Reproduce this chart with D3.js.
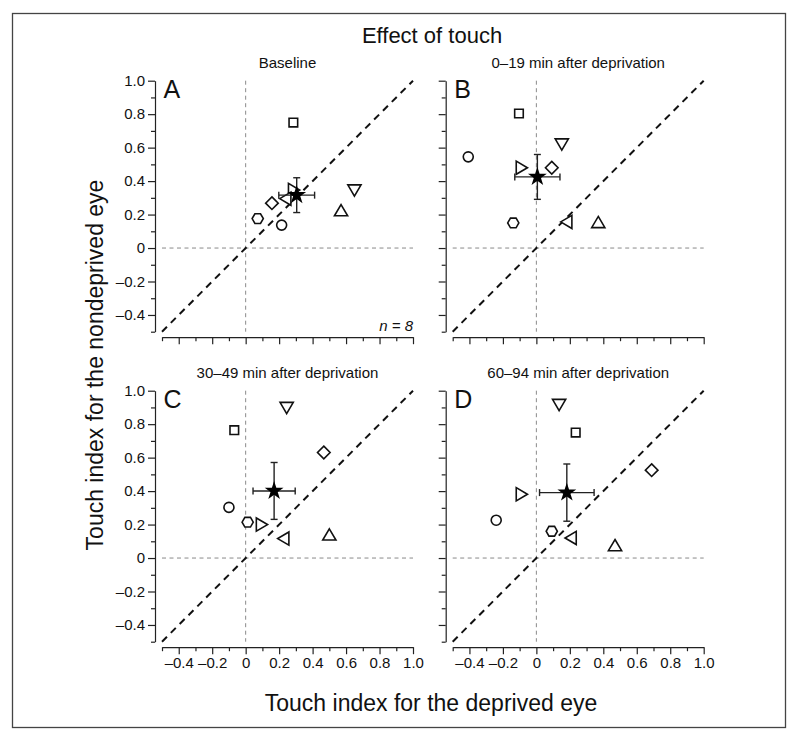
<!DOCTYPE html>
<html><head><meta charset="utf-8">
<script src="https://cdn.jsdelivr.net/npm/d3@7"></script>
<style>body{margin:0;background:#fff}</style>
</head><body>
<svg id="chart" width="800" height="741"></svg>
<script>
// ---------- data ----------
const panelLetters = ["A", "B", "C", "D"];
const panelTitles = ["Baseline", "0\u201319 min after deprivation", "30\u201349 min after deprivation", "60\u201394 min after deprivation"];
const markerShapes = ["circle", "square", "hexagon", "diamond", "triangleUp", "triangleDown", "triangleRight", "triangleLeft"];
// deprived-eye (x) and nondeprived-eye (y) touch index per subject, order = markerShapes
const xA = [0.215, 0.285, 0.072, 0.157, 0.57, 0.65, 0.288, 0.238];
const yA = [0.137, 0.75, 0.176, 0.268, 0.225, 0.345, 0.347, 0.295];
const xB = [-0.407, -0.104, -0.138, 0.092, 0.37, 0.152, -0.088, 0.18];
const yB = [0.545, 0.804, 0.15, 0.48, 0.154, 0.62, 0.48, 0.156];
const xC = [-0.1, -0.068, 0.012, 0.467, 0.5, 0.245, 0.096, 0.226];
const yC = [0.303, 0.764, 0.214, 0.631, 0.14, 0.898, 0.2, 0.116];
const xD = [-0.24, 0.235, 0.092, 0.689, 0.47, 0.136, -0.088, 0.206];
const yD = [0.226, 0.75, 0.16, 0.525, 0.076, 0.916, 0.381, 0.12];
const meanX = [0.305, 0.006, 0.17, 0.182];
const meanY = [0.316, 0.425, 0.401, 0.391];
const errX = [0.107, 0.135, 0.126, 0.163];
const errY = [0.104, 0.134, 0.17, 0.171];
const majorTicks = [-0.4, -0.2, 0, 0.2, 0.4, 0.6, 0.8, 1.0];
const minorTicks = [-0.5, -0.3, -0.1, 0.1, 0.3, 0.5, 0.7, 0.9];
const sampleLabel = "n = 8";
const chartTitle = "Effect of touch";
const xAxisTitle = "Touch index for the deprived eye";
const yAxisTitle = "Touch index for the nondeprived eye";

const panelX = [xA, xB, xC, xD];
const panelY = [yA, yB, yC, yD];

// ---------- layout ----------
const FONT = "'Liberation Sans', Arial, Helvetica, sans-serif";
const svg = d3.select("#chart").style("font-family", FONT);
const size = 251;
const lefts = [162, 452.7];
const tops = [80.7, 390.7];

svg.append("rect").attr("x", 12.5).attr("y", 13.5).attr("width", 773).attr("height", 714)
  .attr("fill", "none").attr("stroke", "#444").attr("stroke-width", 1.3);

svg.append("text").attr("x", 432).attr("y", 43).attr("text-anchor", "middle")
  .attr("font-size", 22).attr("fill", "#111").text(chartTitle);
svg.append("text").attr("x", 431).attr("y", 711).attr("text-anchor", "middle")
  .attr("font-size", 23).attr("fill", "#111").text(xAxisTitle);
svg.append("text").attr("transform", "translate(103,365) rotate(-90)").attr("text-anchor", "middle")
  .attr("font-size", 23).attr("fill", "#111").text(yAxisTitle);

const fmt = v => Math.abs(v) < 1e-9 ? "0" : (v < 0 ? "\u2013" : "") + Math.abs(v).toFixed(1);

function shapePath(kind) {
  const p = d3.path();
  if (kind === "circle") { p.arc(0, 0, 5, 0, 2 * Math.PI); }
  else if (kind === "square") { p.rect(-4.3, -4.3, 8.6, 8.6); }
  else if (kind === "hexagon") {
    for (let i = 0; i < 6; i++) { const a = i * Math.PI / 3; const px = 5.6 * Math.cos(a), py = 5.6 * Math.sin(a); i ? p.lineTo(px, py) : p.moveTo(px, py); }
    p.closePath();
  }
  else if (kind === "diamond") { p.moveTo(0, -6.3); p.lineTo(6.3, 0); p.lineTo(0, 6.3); p.lineTo(-6.3, 0); p.closePath(); }
  else if (kind === "triangleUp") { p.moveTo(0, -5.8); p.lineTo(6.6, 5.4); p.lineTo(-6.6, 5.4); p.closePath(); }
  else if (kind === "triangleDown") { p.moveTo(0, 5.8); p.lineTo(6.6, -5.4); p.lineTo(-6.6, -5.4); p.closePath(); }
  else if (kind === "triangleRight") { p.moveTo(5.8, 0); p.lineTo(-5.4, 6.6); p.lineTo(-5.4, -6.6); p.closePath(); }
  else if (kind === "triangleLeft") { p.moveTo(-5.8, 0); p.lineTo(5.4, 6.6); p.lineTo(5.4, -6.6); p.closePath(); }
  return p.toString();
}

panelLetters.forEach((letter, i) => {
  const col = i % 2, row = Math.floor(i / 2);
  const L = lefts[col], T = tops[row];
  const x = d3.scaleLinear().domain([-0.5, 1]).range([L, L + size]);
  const y = d3.scaleLinear().domain([-0.5, 1]).range([T + size, T]);
  const g = svg.append("g");

  // axes
  const axX = L - 7, axY = T + size + 5.5;
  const gxMaj = g.append("g").attr("transform", `translate(0,${axY})`)
    .call(d3.axisBottom(x).tickValues(majorTicks).tickSize(7).tickSizeOuter(0).tickPadding(3)
      .tickFormat(row === 1 ? fmt : () => ""));
  const gxMin = g.append("g").attr("transform", `translate(0,${axY})`)
    .call(d3.axisBottom(x).tickValues(minorTicks).tickSize(4).tickFormat(() => ""));
  gxMin.select(".domain").remove();
  const gyMaj = g.append("g").attr("transform", `translate(${axX},0)`)
    .call(d3.axisLeft(y).tickValues(majorTicks).tickSize(7).tickSizeOuter(0).tickPadding(3)
      .tickFormat(col === 0 ? fmt : () => ""));
  const gyMin = g.append("g").attr("transform", `translate(${axX},0)`)
    .call(d3.axisLeft(y).tickValues(minorTicks).tickSize(4).tickFormat(() => ""));
  gyMin.select(".domain").remove();
  [gxMaj, gxMin, gyMaj, gyMin].forEach(a => {
    a.selectAll("path,line").attr("stroke", "#222").attr("stroke-width", 1.2);
    a.selectAll("text").attr("font-size", 15).attr("font-family", FONT).attr("fill", "#111");
  });

  // reference lines
  g.append("line").attr("x1", x(0)).attr("x2", x(0)).attr("y1", y(1)).attr("y2", y(-0.5))
    .attr("stroke", "#8a8a8a").attr("stroke-width", 1).attr("stroke-dasharray", "4,3.5");
  g.append("line").attr("x1", x(-0.5)).attr("x2", x(1)).attr("y1", y(0)).attr("y2", y(0))
    .attr("stroke", "#8a8a8a").attr("stroke-width", 1).attr("stroke-dasharray", "4,3.5");
  g.append("line").attr("x1", x(-0.5)).attr("x2", x(1)).attr("y1", y(-0.5)).attr("y2", y(1))
    .attr("stroke", "#111").attr("stroke-width", 2).attr("stroke-dasharray", "7,5.5");

  // titles
  g.append("text").attr("x", L + size / 2).attr("y", T - 13).attr("text-anchor", "middle")
    .attr("font-size", 15).attr("fill", "#111").text(panelTitles[i]);
  g.append("text").attr("x", L + 1.5).attr("y", T + 17).attr("font-size", 25).attr("fill", "#111").text(letter);
  if (i === 0) {
    g.append("text").attr("x", L + size).attr("y", T + size - 1).attr("text-anchor", "end")
      .attr("font-size", 15).attr("font-style", "italic").attr("fill", "#111").text(sampleLabel);
  }

  // subject markers
  const xs = panelX[i], ys = panelY[i];
  g.selectAll("path.m").data(markerShapes).enter().append("path").attr("class", "m")
    .attr("d", d => shapePath(d))
    .attr("transform", (d, k) => `translate(${x(xs[k])},${y(ys[k])})`)
    .attr("fill", "#fff").attr("stroke", "#111").attr("stroke-width", 1.6).attr("stroke-linejoin", "miter");

  // mean with error bars
  const mx = meanX[i], my = meanY[i], ex = errX[i], ey = errY[i];
  const eb = g.append("g").attr("stroke", "#222").attr("stroke-width", 1.4);
  eb.append("line").attr("x1", x(mx - ex)).attr("x2", x(mx + ex)).attr("y1", y(my)).attr("y2", y(my));
  eb.append("line").attr("x1", x(mx)).attr("x2", x(mx)).attr("y1", y(my - ey)).attr("y2", y(my + ey));
  [mx - ex, mx + ex].forEach(v => eb.append("line").attr("x1", x(v)).attr("x2", x(v)).attr("y1", y(my) - 3.5).attr("y2", y(my) + 3.5));
  [my - ey, my + ey].forEach(v => eb.append("line").attr("y1", y(v)).attr("y2", y(v)).attr("x1", x(mx) - 3.5).attr("x2", x(mx) + 3.5));
  g.append("path").attr("d", d3.symbol(d3.symbolStar, 110)())
    .attr("transform", `translate(${x(mx)},${y(my)})`).attr("fill", "#000");
});
</script>
</body></html>
